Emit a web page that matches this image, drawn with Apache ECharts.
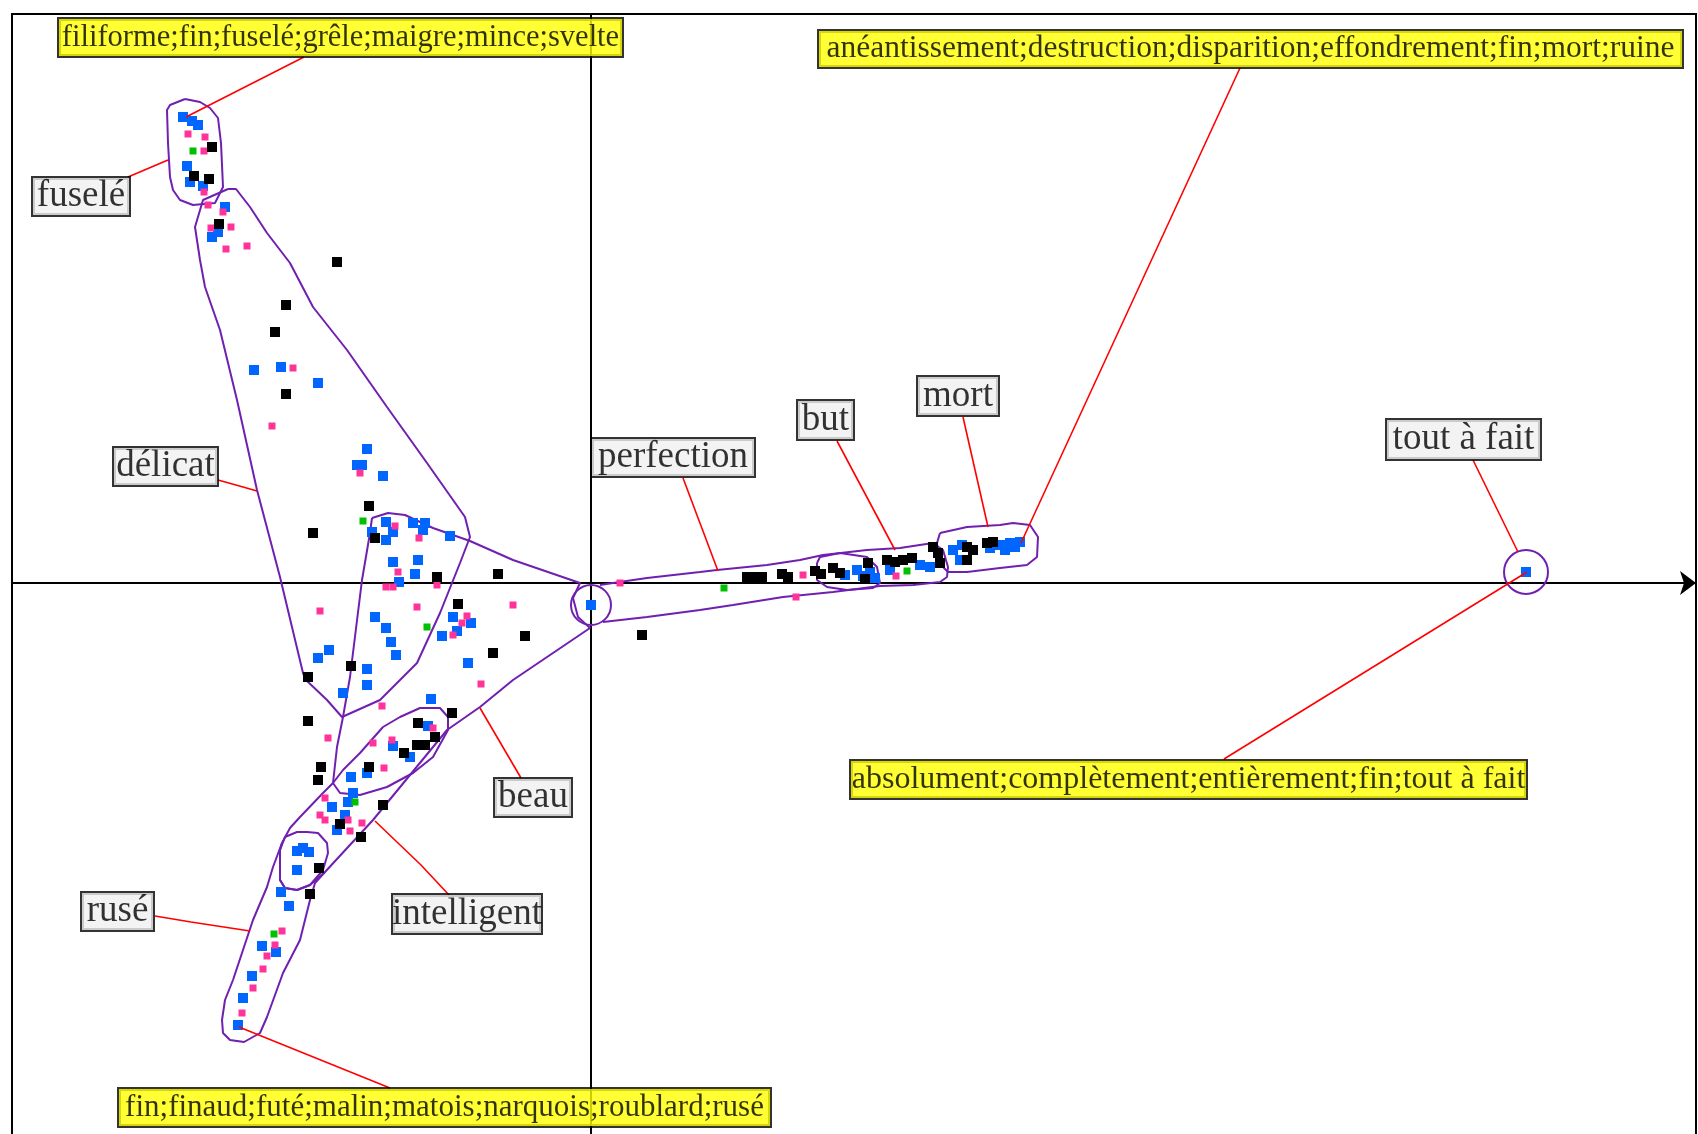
<!DOCTYPE html>
<html><head><meta charset="utf-8">
<script src="https://cdn.jsdelivr.net/npm/echarts@6/dist/echarts.min.js"></script>
<style>html,body{margin:0;padding:0;background:#fff}#c{width:1698px;height:1134px}</style>
</head><body><div id="c"></div>
<script>
const bluePts = [
[-4.08,4.66],[-3.99,4.62],[-3.93,4.58],[-4.04,4.17],[-4.01,4.01],[-3.88,3.97],
[-3.66,3.76],[-3.73,3.51],[-3.79,3.46],
[-3.37,2.13],[-3.10,2.16],[-2.73,2.00],[-2.24,1.34],[-2.34,1.18],[-2.29,1.18],[-2.08,1.07],
[-2.05,0.61],[-1.78,0.60],[-1.66,0.60],[-1.68,0.53],[-1.41,0.47],[-2.19,0.51],[-1.98,0.51],[-2.05,0.43],
[-1.98,0.21],[-1.73,0.23],[-1.76,0.09],[-1.92,0.01],
[-2.16,-0.34],[-2.05,-0.45],[-1.38,-0.34],[-1.20,-0.40],[-1.34,-0.48],[-1.49,-0.53],[-2.00,-0.59],[-1.95,-0.72],[-2.62,-0.67],[-2.73,-0.75],[-2.24,-0.86],[-1.23,-0.80],[-2.24,-1.02],[-2.48,-1.10],[-1.60,-1.16],
[0.00,-0.22],
[-1.63,-1.43],[-1.98,-1.63],[-1.81,-1.74],[-2.24,-1.90],[-2.40,-1.94],[-2.38,-2.10],[-2.43,-2.19],[-2.59,-2.24],[-2.46,-2.32],[-2.54,-2.47],
[-2.94,-2.68],[-2.88,-2.65],[-2.82,-2.69],[-2.94,-2.87],
[-3.10,-3.09],[-3.02,-3.23],[-3.29,-3.63],[-3.15,-3.69],[-3.39,-3.93],[-3.48,-4.15],[-3.53,-4.42],
[2.54,0.08],[2.66,0.13],[2.72,0.07],[2.79,0.11],[2.84,0.05],[2.99,0.13],[3.29,0.18],[3.39,0.16],[3.62,0.33],[3.69,0.23],[3.71,0.38],[3.99,0.35],[4.09,0.38],[4.19,0.40],[4.29,0.41],[4.14,0.33],[4.24,0.36],
[9.35,0.11]
];
const pinkPts = [
[-4.03,4.49],[-3.86,4.46],[-3.87,4.32],[-3.87,3.91],[-3.83,3.78],[-3.68,3.71],[-3.80,3.55],[-3.60,3.56],[-3.65,3.34],[-3.44,3.37],
[-2.98,2.15],[-3.19,1.57],[-2.31,1.10],
[-1.96,0.57],[-1.72,0.45],[-1.93,0.11],[-2.05,-0.04],[-1.98,-0.04],[-1.54,-0.02],[0.29,0.00],
[-2.71,-0.28],[-1.74,-0.24],[-0.78,-0.22],[-1.24,-0.33],[-1.29,-0.40],[-1.38,-0.52],[-1.10,-1.01],[-2.09,-1.23],
[-1.58,-1.45],[-1.99,-1.57],[-2.18,-1.60],[-2.63,-1.55],[-2.07,-1.85],[-2.66,-2.15],[-2.71,-2.32],[-2.66,-2.37],[-2.43,-2.37],[-2.29,-2.40],[-2.41,-2.48],
[-3.09,-3.48],[-3.16,-3.62],[-3.24,-3.73],[-3.28,-3.86],[-3.38,-4.05],[-3.49,-4.30],
[2.05,-0.14],[2.12,0.08],[3.05,0.07]
];
const greenPts = [[-3.98,4.32],[-2.28,0.62],[-1.64,-0.44],[-2.36,-2.19],[-3.17,-3.51],[1.33,-0.05],[3.16,0.12]];
const blackPts = [
[-3.79,4.36],[-3.97,4.07],[-3.82,4.04],[-3.72,3.59],[-2.54,3.21],[-3.05,2.78],[-3.16,2.51],[-3.05,1.89],
[-2.22,0.77],[-2.78,0.50],[-2.16,0.45],[-1.54,0.06],[-0.93,0.09],[-1.33,-0.21],[-0.66,-0.53],[-0.98,-0.70],[-2.40,-0.83],[-2.83,-0.94],[-1.39,-1.30],[-2.83,-1.38],[0.51,-0.52],
[-1.73,-1.40],[-1.56,-1.54],[-1.66,-1.62],[-1.74,-1.62],[-1.87,-1.70],[-2.70,-1.84],[-2.73,-1.97],[-2.22,-1.84],[-2.08,-2.22],[-2.51,-2.41],[-2.30,-2.54],[-2.72,-2.85],[-2.81,-3.11],
[1.56,0.06],[1.62,0.06],[1.71,0.06],[1.91,0.09],[1.97,0.06],[2.24,0.12],[2.30,0.09],[2.42,0.15],[2.49,0.10],[2.77,0.20],[2.74,0.04],[2.96,0.23],[3.04,0.21],[3.12,0.23],[3.21,0.25],[3.42,0.36],[3.47,0.30],[3.49,0.20],[3.76,0.36],[3.82,0.33],[3.76,0.23],[3.96,0.40],[4.02,0.41]
];

const hullFusele = [[-4.06,4.84],[-3.91,4.81],[-3.81,4.75],[-3.73,4.65],[-3.70,4.40],[-3.68,3.96],[-3.76,3.80],[-3.98,3.78],[-4.11,3.83],[-4.18,3.93],[-4.21,4.06],[-4.23,4.40],[-4.24,4.73],[-4.21,4.78]];
const hullDelicat = [[-3.63,3.94],[-3.55,3.94],[-3.41,3.76],[-3.24,3.50],[-3.01,3.20],[-2.78,2.76],[-2.44,2.33],[-2.04,1.76],[-1.64,1.20],[-1.26,0.66],[-1.21,0.46],[-1.31,0.20],[-1.51,-0.30],[-1.74,-0.80],[-2.11,-1.17],[-2.49,-1.34],[-2.64,-1.17],[-2.85,-0.97],[-2.88,-0.90],[-3.11,0.06],[-3.34,0.93],[-3.54,1.83],[-3.71,2.53],[-3.86,2.96],[-3.91,3.23],[-3.96,3.56],[-3.88,3.83]];
const hullBeau = [[-2.19,0.65],[-2.03,0.70],[-1.86,0.68],[-1.58,0.55],[-1.21,0.42],[-0.78,0.23],[-0.11,0.00],[-0.18,-0.15],[-0.13,-0.34],[-0.01,-0.45],[-0.38,-0.70],[-0.78,-0.97],[-1.11,-1.24],[-1.44,-1.47],[-2.18,-2.37],[-2.66,-2.89],[-2.81,-3.02],[-2.94,-3.07],[-3.06,-3.05],[-3.11,-2.97],[-3.11,-2.67],[-3.09,-2.60],[-3.01,-2.45],[-2.91,-2.34],[-2.68,-2.10],[-2.58,-2.00],[-2.54,-1.64],[-2.48,-1.34],[-2.41,-0.94],[-2.29,0.03],[-2.21,0.50]];
const hullIntelligent = [[-2.08,-1.44],[-1.91,-1.34],[-1.71,-1.25],[-1.51,-1.25],[-1.43,-1.34],[-1.43,-1.47],[-1.58,-1.74],[-1.78,-1.90],[-2.04,-2.04],[-2.31,-2.12],[-2.51,-2.10],[-2.58,-2.00],[-2.48,-1.87],[-2.31,-1.70]];
const hullSmall = [[-2.84,-2.49],[-2.73,-2.50],[-2.64,-2.60],[-2.63,-2.70],[-2.68,-2.87],[-2.81,-3.02],[-2.94,-3.07],[-3.06,-3.05],[-3.11,-2.97],[-3.11,-2.67],[-3.06,-2.54],[-2.94,-2.49]];
const hullRuse = [[-3.09,-2.60],[-3.18,-2.84],[-3.24,-3.04],[-3.38,-3.37],[-3.48,-3.67],[-3.58,-3.97],[-3.66,-4.17],[-3.69,-4.37],[-3.68,-4.50],[-3.61,-4.57],[-3.47,-4.59],[-3.31,-4.50],[-3.24,-4.34],[-3.08,-3.90],[-2.91,-3.57],[-2.81,-3.17],[-2.76,-3.00],[-2.66,-2.89]];
const hullPerfection = [[0.09,-0.02],[0.22,0.00],[0.56,0.05],[1.09,0.11],[1.26,0.13],[1.76,0.18],[2.09,0.23],[2.32,0.28],[2.76,0.33],[3.09,0.35],[3.42,0.40],[3.52,0.33],[3.57,0.16],[3.56,0.06],[3.49,0.01],[3.22,-0.02],[2.89,-0.03],[2.42,-0.09],[1.92,-0.14],[1.42,-0.22],[1.09,-0.27],[0.56,-0.34],[0.12,-0.39]];
const hullBut = [[2.26,0.20],[2.29,0.26],[2.49,0.30],[2.76,0.26],[2.86,0.16],[2.89,0.00],[2.82,-0.05],[2.56,-0.07],[2.36,-0.04],[2.26,0.03]];
const hullMort = [[3.49,0.50],[3.76,0.56],[4.09,0.58],[4.22,0.60],[4.39,0.58],[4.47,0.46],[4.46,0.26],[4.36,0.18],[4.09,0.15],[3.76,0.11],[3.57,0.11],[3.47,0.21],[3.46,0.40]];
const singletonHulls = [[0.00,-0.22],[9.35,0.11]];

// ---- annotations ----
const labelTexts = [
 'filiforme;fin;fuselé;grêle;maigre;mince;svelte',
 'anéantissement;destruction;disparition;effondrement;fin;mort;ruine',
 'fuselé','délicat','perfection','but','mort','tout à fait',
 'absolument;complètement;entièrement;fin;tout à fait',
 'beau','intelligent','rusé',
 'fin;finaud;futé;malin;matois;narquois;roublard;rusé'
];
const labelAnchors = [[-2.505,5.455],[6.595,5.34],[-5.10,3.865],[-4.255,1.165],[0.82,1.255],[2.345,1.63],[3.67,1.87],[8.725,1.435],[5.975,-1.965],[-0.58,-2.145],[-1.24,-3.31],[-4.735,-3.285],[-1.465,-5.245]];
const leaders = [
 [[-2.87,5.26],[-4.05,4.66]],
 [[6.49,5.15],[4.30,0.40]],
 [[-4.63,4.06],[-4.23,4.23]],
 [[-3.73,1.03],[-3.48,0.96],[-3.34,0.92]],
 [[0.92,1.05],[1.27,0.12]],
 [[2.46,1.42],[3.04,0.33]],
 [[3.72,1.66],[3.97,0.56]],
 [[8.82,1.23],[9.27,0.31]],
 [[6.33,-1.76],[9.36,0.11]],
 [[-0.70,-1.95],[-1.11,-1.25]],
 [[-1.42,-3.12],[-1.70,-2.82],[-2.16,-2.38]],
 [[-4.36,-3.33],[-4.00,-3.39],[-3.41,-3.48]],
 [[-2.01,-5.05],[-3.52,-4.44]]
];

// styling of annotation boxes (pixel sizes, colours)
const boxStyle = [
 {w:565,h:39,y:true,fs:30.5},{w:865,h:38,y:true,fs:31.5},
 {w:98,h:39},{w:105,h:39},{w:164,h:39},{w:57,h:40},{w:82,h:40},{w:155,h:41},
 {w:677,h:39,y:true,fs:32},
 {w:78,h:39},{w:150,h:40},{w:73,h:39},
 {w:653,h:39,y:true,fs:31}
];

const PURPLE = '#7020B0';
const FONT = 'Liberation Serif';

const series = [];
[[hullFusele,true],[hullDelicat,true],[hullBeau,true],[hullIntelligent,true],[hullSmall,true],
 [hullRuse,false],[hullPerfection,false],[hullBut,true],[hullMort,true]].forEach(([h,closed])=>{
  series.push({type:'line', data: closed ? h.concat([h[0]]) : h, symbol:'none', silent:true,
    lineStyle:{color:PURPLE,width:2}, z:2, animation:false});
});
series.push({type:'scatter', data: singletonHulls.map((p,i)=>({value:p, symbolSize: i===0?40:44})),
  symbol:'circle', itemStyle:{color:'rgba(0,0,0,0)', borderColor:PURPLE, borderWidth:2, opacity:1}, z:2, silent:true});

series.push({type:'scatter', data: bluePts, symbol:'rect', symbolSize:10, itemStyle:{color:'#0066FF', opacity:1}, z:3});
series.push({type:'scatter', data: pinkPts, symbol:'rect', symbolSize:7, itemStyle:{color:'#FF3399', opacity:1}, z:3});
series.push({type:'scatter', data: greenPts, symbol:'rect', symbolSize:7, itemStyle:{color:'#00C000', opacity:1}, z:3});
series.push({type:'scatter', data: blackPts, symbol:'rect', symbolSize:10, itemStyle:{color:'#000000', opacity:1}, z:3});

leaders.forEach(l=>{
  series.push({type:'line', data:l, symbol:'none', silent:true, lineStyle:{color:'#FF0000',width:1.6}, z:5});
});

series.push({type:'scatter', symbolSize:0, z:10, silent:true,
  data: labelTexts.map((t,i)=>{
    const s = boxStyle[i];
    return {value: labelAnchors[i], label:{show:true, position:'inside', formatter:t,
      width:s.w-2, height:s.h-2, lineHeight:s.h-2, align:'center', verticalAlign:'middle',
      fontFamily:FONT, fontSize: s.fs || 37, color:'#000',
      backgroundColor: s.y ? '#FFFF00' : '#F0F0F0', borderColor:'#000', borderWidth:2, padding:0}};
  })
});

const chart = echarts.init(document.getElementById('c'));
chart.setOption({
  animation:false,
  backgroundColor:'#fff',
  grid:{left:12, right:2, top:14, bottom:-20, outerBoundsMode:'none', containLabel:false,
    show:true, borderColor:'#000', borderWidth:2},
  xAxis:{type:'value', min:-5.79, max:11.05,
    axisLine:{onZero:true, lineStyle:{color:'#000',width:2}, symbol:['none','arrow'], symbolSize:[18,16]},
    axisTick:{show:false}, axisLabel:{show:false}, splitLine:{show:false}},
  yAxis:{type:'value', min:-5.71, max:5.69,
    axisLine:{onZero:true, lineStyle:{color:'#000',width:2}},
    axisTick:{show:false}, axisLabel:{show:false}, splitLine:{show:false}},
  series
});
</script></body></html>
